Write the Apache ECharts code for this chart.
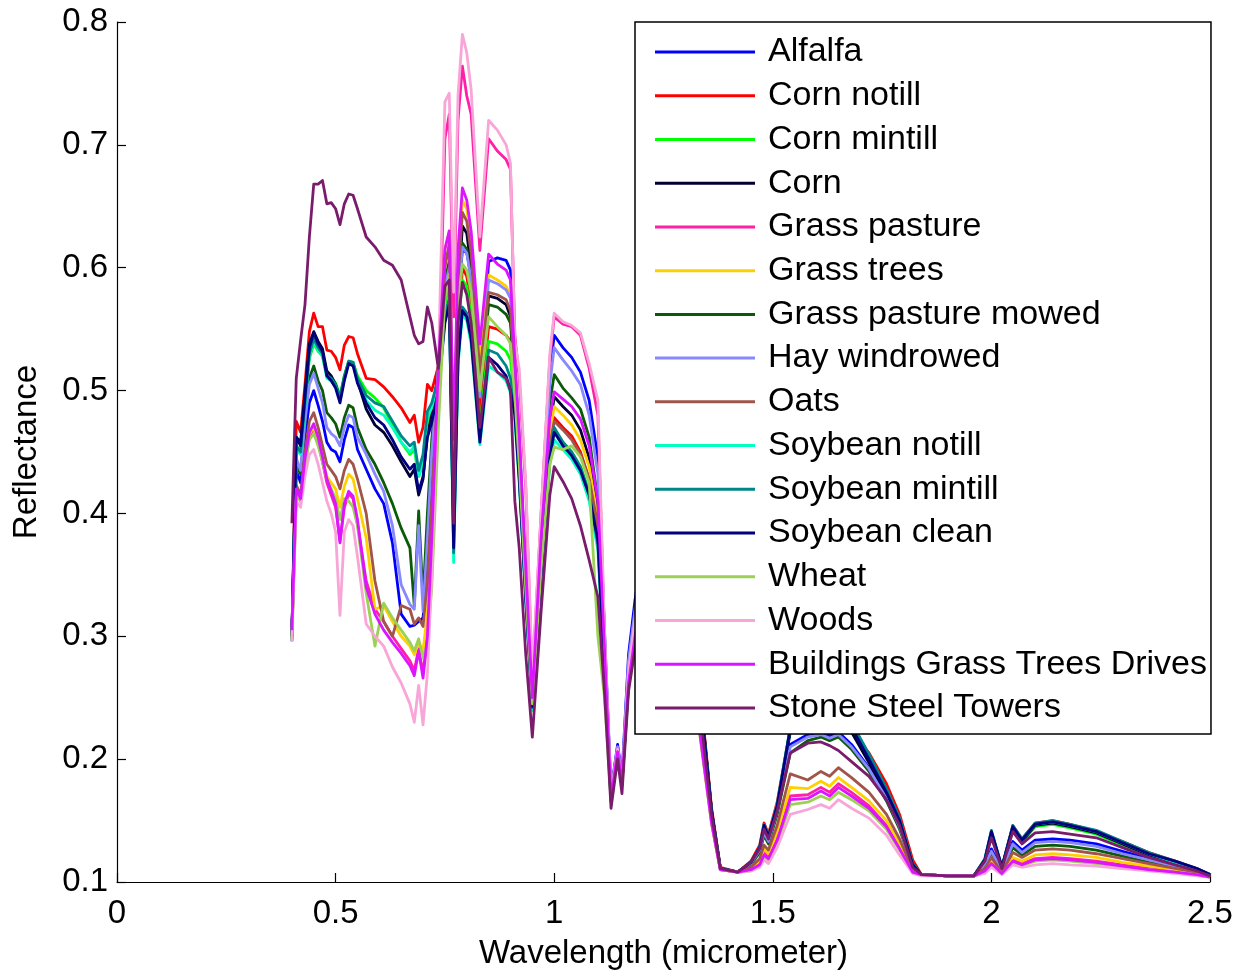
<!DOCTYPE html>
<html>
<head>
<meta charset="utf-8">
<script src="https://cdn.jsdelivr.net/npm/echarts@6/dist/echarts.min.js"></script>
<style>
html,body{margin:0;padding:0;background:#fff;}
#chart{width:1246px;height:975px;}
</style>
</head>
<body>
<div id="chart"></div>
<script>
// Wavelength grid (micrometer)
var wavelengths = [
0.40,0.41,0.42,0.43,0.44,0.45,0.46,0.47,0.48,0.49,
0.50,0.51,0.52,0.53,0.54,0.55,0.57,0.59,0.61,0.63,
0.65,0.67,0.68,0.69,0.70,0.71,0.72,0.735,0.75,0.76,
0.77,0.78,0.79,0.80,0.81,0.83,0.85,0.87,0.89,0.90,
0.91,0.92,0.935,0.95,0.97,0.99,1.00,1.02,1.04,1.06,
1.08,1.10,1.115,1.13,1.145,1.155,1.17,1.185,1.22,1.26,
1.30,1.33,1.36,1.38,1.42,1.45,1.47,1.48,1.49,1.51,
1.54,1.58,1.61,1.63,1.65,1.68,1.72,1.76,1.79,1.82,
1.84,1.90,1.96,1.985,2.00,2.024,2.049,2.07,2.10,2.14,
2.18,2.24,2.30,2.36,2.42,2.47,2.50];

var classNames = ["Alfalfa","Corn notill","Corn mintill","Corn","Grass pasture","Grass trees",
"Grass pasture mowed","Hay windrowed","Oats","Soybean notill","Soybean mintill","Soybean clean",
"Wheat","Woods","Buildings Grass Trees Drives","Stone Steel Towers"];

var classColors = ["#0000ff","#ff0000","#00ff00","#000033","#ff20a8","#ffd000",
"#0a5a0a","#8888ff","#a0544a","#00ffc0","#00858a","#000080",
"#9bd154","#f8a5d8","#dc14ff","#7a1c6c"];

var yTicks = [0.1,0.2,0.3,0.4,0.5,0.6,0.7,0.8];
var xTicks = [0,0.5,1,1.5,2,2.5];

var alfalfa = [
0.305,0.435,0.425,0.462,0.490,0.500,0.488,0.475,0.458,0.452,
0.450,0.442,0.460,0.472,0.470,0.452,0.436,0.420,0.408,0.376,
0.318,0.308,0.309,0.312,0.315,0.360,0.430,0.505,0.580,0.595,
0.420,0.570,0.615,0.612,0.595,0.500,0.605,0.608,0.606,0.598,
0.520,0.462,0.350,0.252,0.390,0.515,0.545,0.535,0.527,0.515,
0.492,0.445,0.305,0.174,0.212,0.186,0.285,0.330,0.410,0.425,
0.390,0.265,0.157,0.111,0.108,0.115,0.126,0.142,0.134,0.158,
0.212,0.220,0.222,0.219,0.222,0.212,0.193,0.169,0.146,0.112,
0.106,0.105,0.105,0.114,0.127,0.110,0.133,0.126,0.134,0.135,
0.134,0.131,0.125,0.119,0.114,0.110,0.105];

var cornNotill = [
0.300,0.475,0.466,0.505,0.548,0.563,0.552,0.552,0.533,0.532,
0.527,0.517,0.537,0.544,0.543,0.530,0.510,0.509,0.503,0.495,
0.486,0.474,0.480,0.458,0.470,0.505,0.500,0.520,0.575,0.590,
0.385,0.540,0.600,0.593,0.570,0.480,0.552,0.550,0.545,0.540,
0.490,0.440,0.335,0.240,0.355,0.455,0.478,0.470,0.463,0.450,
0.428,0.385,0.275,0.170,0.208,0.182,0.265,0.315,0.400,0.420,
0.390,0.270,0.160,0.112,0.108,0.117,0.130,0.148,0.139,0.165,
0.225,0.245,0.248,0.246,0.248,0.222,0.205,0.180,0.155,0.118,
0.106,0.105,0.105,0.118,0.140,0.112,0.146,0.135,0.148,0.150,
0.147,0.141,0.133,0.124,0.117,0.111,0.106];

var cornMintill = [
0.298,0.455,0.450,0.488,0.526,0.538,0.532,0.528,0.512,0.510,
0.506,0.496,0.512,0.524,0.523,0.512,0.500,0.494,0.486,0.472,
0.458,0.448,0.452,0.430,0.440,0.475,0.485,0.510,0.570,0.585,
0.380,0.550,0.590,0.585,0.560,0.470,0.540,0.538,0.532,0.525,
0.490,0.435,0.335,0.242,0.352,0.448,0.468,0.458,0.450,0.438,
0.418,0.375,0.270,0.166,0.205,0.180,0.262,0.305,0.390,0.410,
0.383,0.265,0.157,0.111,0.108,0.115,0.127,0.145,0.136,0.161,
0.224,0.240,0.243,0.241,0.243,0.226,0.200,0.173,0.150,0.114,
0.106,0.105,0.105,0.117,0.139,0.112,0.143,0.132,0.145,0.147,
0.144,0.139,0.130,0.121,0.115,0.110,0.106];

var corn = [
0.298,0.462,0.458,0.498,0.538,0.548,0.540,0.534,0.516,0.512,
0.505,0.493,0.510,0.523,0.522,0.508,0.485,0.472,0.466,0.455,
0.442,0.430,0.436,0.415,0.428,0.465,0.480,0.515,0.585,0.600,
0.385,0.575,0.634,0.628,0.600,0.500,0.577,0.575,0.570,0.560,
0.510,0.455,0.345,0.245,0.365,0.470,0.495,0.487,0.480,0.468,
0.445,0.400,0.282,0.168,0.207,0.180,0.268,0.318,0.405,0.425,
0.395,0.268,0.158,0.111,0.108,0.116,0.128,0.145,0.136,0.160,
0.222,0.238,0.241,0.239,0.241,0.222,0.197,0.170,0.148,0.113,
0.106,0.105,0.105,0.117,0.139,0.112,0.144,0.133,0.146,0.148,
0.145,0.140,0.131,0.122,0.116,0.110,0.106];

var grassPasture = [
0.300,0.418,0.410,0.440,0.462,0.470,0.458,0.442,0.425,0.415,
0.405,0.378,0.405,0.416,0.412,0.392,0.345,0.322,0.312,0.300,
0.290,0.280,0.272,0.290,0.270,0.300,0.370,0.500,0.705,0.725,
0.560,0.720,0.764,0.740,0.725,0.614,0.705,0.695,0.688,0.680,
0.545,0.510,0.420,0.262,0.400,0.525,0.560,0.554,0.552,0.545,
0.518,0.480,0.300,0.172,0.210,0.182,0.275,0.318,0.360,0.370,
0.335,0.240,0.150,0.110,0.108,0.110,0.115,0.124,0.120,0.136,
0.170,0.171,0.177,0.173,0.180,0.173,0.162,0.146,0.128,0.109,
0.106,0.105,0.105,0.109,0.116,0.107,0.118,0.115,0.119,0.120,
0.119,0.117,0.114,0.111,0.109,0.106,0.104];

var grassTrees = [
0.300,0.418,0.412,0.445,0.465,0.470,0.458,0.444,0.430,0.425,
0.420,0.405,0.422,0.432,0.428,0.412,0.380,0.322,0.325,0.312,
0.300,0.292,0.285,0.295,0.288,0.320,0.395,0.520,0.615,0.630,
0.450,0.600,0.655,0.648,0.622,0.530,0.594,0.590,0.585,0.577,
0.520,0.460,0.350,0.250,0.370,0.465,0.487,0.480,0.472,0.460,
0.438,0.395,0.282,0.168,0.204,0.179,0.260,0.298,0.335,0.345,
0.315,0.230,0.148,0.110,0.108,0.111,0.117,0.127,0.123,0.140,
0.177,0.176,0.182,0.178,0.185,0.177,0.166,0.150,0.131,0.109,
0.106,0.105,0.105,0.110,0.117,0.107,0.120,0.117,0.122,0.123,
0.122,0.120,0.116,0.113,0.110,0.107,0.104];

var grassPastureMowed = [
0.300,0.440,0.432,0.475,0.510,0.520,0.508,0.500,0.482,0.478,
0.473,0.462,0.478,0.488,0.486,0.470,0.452,0.440,0.425,0.408,
0.388,0.372,0.325,0.402,0.330,0.400,0.460,0.520,0.590,0.605,
0.410,0.570,0.620,0.615,0.590,0.500,0.570,0.568,0.562,0.555,
0.505,0.450,0.340,0.245,0.370,0.490,0.513,0.502,0.494,0.485,
0.462,0.410,0.285,0.168,0.205,0.180,0.265,0.315,0.395,0.410,
0.380,0.260,0.155,0.111,0.108,0.114,0.124,0.138,0.131,0.155,
0.205,0.215,0.218,0.215,0.218,0.208,0.190,0.166,0.143,0.112,
0.106,0.105,0.105,0.113,0.124,0.109,0.128,0.122,0.129,0.130,
0.129,0.126,0.121,0.116,0.112,0.108,0.105];

var hayWindrowed = [
0.302,0.445,0.435,0.475,0.505,0.514,0.502,0.490,0.470,0.465,
0.462,0.455,0.470,0.480,0.478,0.462,0.448,0.432,0.418,0.390,
0.342,0.326,0.322,0.390,0.320,0.380,0.450,0.515,0.585,0.600,
0.410,0.570,0.617,0.612,0.590,0.495,0.590,0.587,0.582,0.575,
0.510,0.455,0.345,0.250,0.385,0.505,0.535,0.525,0.516,0.505,
0.480,0.432,0.300,0.172,0.210,0.185,0.280,0.322,0.405,0.420,
0.385,0.262,0.156,0.111,0.108,0.115,0.126,0.140,0.133,0.158,
0.210,0.218,0.220,0.217,0.220,0.210,0.192,0.168,0.145,0.112,
0.106,0.105,0.105,0.114,0.125,0.109,0.131,0.124,0.132,0.133,
0.132,0.129,0.123,0.118,0.113,0.109,0.105];

var oats = [
0.300,0.423,0.415,0.450,0.475,0.482,0.470,0.455,0.440,0.435,
0.430,0.420,0.435,0.444,0.440,0.428,0.400,0.345,0.312,0.300,
0.325,0.322,0.310,0.315,0.308,0.345,0.410,0.510,0.600,0.620,
0.440,0.590,0.645,0.638,0.612,0.515,0.580,0.578,0.574,0.565,
0.515,0.455,0.345,0.248,0.365,0.455,0.475,0.468,0.460,0.448,
0.428,0.390,0.280,0.168,0.204,0.180,0.262,0.300,0.340,0.350,
0.320,0.235,0.150,0.110,0.108,0.112,0.119,0.130,0.126,0.146,
0.188,0.183,0.190,0.186,0.193,0.185,0.173,0.155,0.135,0.110,
0.106,0.105,0.105,0.111,0.120,0.108,0.124,0.120,0.126,0.127,
0.126,0.123,0.119,0.115,0.111,0.108,0.105];

var soybeanNotill = [
0.296,0.452,0.448,0.488,0.528,0.540,0.533,0.528,0.510,0.508,
0.503,0.492,0.510,0.523,0.522,0.508,0.492,0.484,0.480,0.470,
0.458,0.450,0.455,0.430,0.442,0.478,0.486,0.505,0.558,0.572,
0.360,0.520,0.562,0.557,0.538,0.456,0.520,0.515,0.508,0.498,
0.475,0.425,0.328,0.240,0.345,0.440,0.460,0.452,0.444,0.432,
0.410,0.370,0.268,0.165,0.203,0.178,0.260,0.302,0.388,0.408,
0.382,0.263,0.156,0.111,0.108,0.116,0.128,0.146,0.137,0.163,
0.226,0.243,0.246,0.244,0.246,0.229,0.203,0.175,0.151,0.114,
0.106,0.105,0.105,0.118,0.141,0.112,0.145,0.134,0.147,0.149,
0.146,0.141,0.132,0.123,0.116,0.110,0.106];

var soybeanMintill = [
0.296,0.455,0.450,0.490,0.530,0.542,0.535,0.530,0.512,0.510,
0.505,0.494,0.512,0.524,0.523,0.510,0.496,0.490,0.487,0.475,
0.463,0.455,0.458,0.435,0.448,0.483,0.490,0.510,0.562,0.575,
0.368,0.525,0.568,0.563,0.545,0.462,0.533,0.530,0.520,0.510,
0.485,0.430,0.330,0.242,0.350,0.448,0.470,0.458,0.450,0.438,
0.416,0.375,0.270,0.166,0.205,0.180,0.262,0.305,0.392,0.412,
0.385,0.265,0.157,0.111,0.108,0.116,0.128,0.147,0.137,0.163,
0.226,0.243,0.246,0.244,0.246,0.230,0.204,0.176,0.152,0.115,
0.106,0.105,0.105,0.119,0.142,0.112,0.146,0.135,0.148,0.150,
0.147,0.142,0.133,0.124,0.117,0.111,0.106];

var soybeanClean = [
0.300,0.462,0.455,0.495,0.535,0.547,0.538,0.532,0.512,0.508,
0.502,0.490,0.508,0.522,0.520,0.506,0.490,0.478,0.472,0.460,
0.446,0.436,0.440,0.418,0.430,0.462,0.474,0.500,0.555,0.570,
0.372,0.525,0.565,0.560,0.542,0.458,0.527,0.521,0.512,0.500,
0.480,0.428,0.330,0.243,0.350,0.445,0.466,0.455,0.447,0.435,
0.415,0.378,0.272,0.168,0.205,0.180,0.262,0.310,0.390,0.410,
0.385,0.265,0.158,0.111,0.108,0.116,0.128,0.146,0.137,0.162,
0.225,0.240,0.243,0.241,0.243,0.226,0.200,0.173,0.150,0.114,
0.106,0.105,0.105,0.118,0.141,0.112,0.145,0.134,0.147,0.149,
0.146,0.141,0.132,0.123,0.117,0.111,0.106];

var wheat = [
0.298,0.415,0.410,0.440,0.460,0.465,0.455,0.442,0.428,0.420,
0.412,0.395,0.412,0.410,0.405,0.390,0.335,0.292,0.327,0.315,
0.305,0.295,0.288,0.298,0.282,0.295,0.340,0.470,0.575,0.595,
0.420,0.570,0.603,0.598,0.580,0.500,0.560,0.552,0.545,0.538,
0.495,0.440,0.338,0.245,0.355,0.440,0.454,0.452,0.455,0.446,
0.425,0.300,0.250,0.166,0.202,0.178,0.258,0.295,0.330,0.340,
0.312,0.228,0.147,0.110,0.108,0.109,0.113,0.121,0.118,0.132,
0.163,0.165,0.170,0.167,0.173,0.167,0.158,0.143,0.126,0.108,
0.106,0.105,0.105,0.108,0.114,0.107,0.116,0.113,0.117,0.118,
0.117,0.115,0.112,0.110,0.108,0.106,0.104];

var woods = [
0.296,0.410,0.405,0.430,0.448,0.452,0.440,0.425,0.410,0.400,
0.385,0.317,0.385,0.395,0.390,0.365,0.310,0.300,0.292,0.275,
0.262,0.245,0.230,0.260,0.228,0.270,0.350,0.520,0.735,0.742,
0.580,0.740,0.790,0.775,0.745,0.625,0.720,0.712,0.700,0.685,
0.540,0.518,0.425,0.270,0.400,0.530,0.563,0.556,0.553,0.547,
0.522,0.492,0.305,0.172,0.208,0.180,0.272,0.315,0.355,0.365,
0.330,0.235,0.148,0.110,0.108,0.109,0.112,0.118,0.115,0.128,
0.155,0.159,0.163,0.160,0.167,0.160,0.152,0.138,0.122,0.107,
0.105,0.105,0.105,0.107,0.112,0.106,0.114,0.112,0.114,0.115,
0.114,0.113,0.111,0.109,0.107,0.105,0.104];

var buildings = [
0.305,0.420,0.412,0.445,0.466,0.473,0.462,0.446,0.428,0.418,
0.408,0.376,0.408,0.418,0.414,0.395,0.340,0.318,0.305,0.295,
0.286,0.276,0.268,0.288,0.266,0.300,0.380,0.520,0.615,0.630,
0.460,0.615,0.665,0.655,0.630,0.538,0.611,0.603,0.598,0.590,
0.525,0.465,0.355,0.250,0.380,0.478,0.499,0.493,0.487,0.477,
0.455,0.410,0.290,0.168,0.206,0.180,0.262,0.300,0.338,0.348,
0.318,0.230,0.148,0.110,0.108,0.110,0.114,0.122,0.119,0.134,
0.167,0.168,0.174,0.170,0.177,0.170,0.160,0.145,0.127,0.108,
0.106,0.105,0.105,0.109,0.115,0.107,0.117,0.114,0.118,0.119,
0.118,0.116,0.113,0.110,0.108,0.106,0.104];

var stoneSteel = [
0.392,0.510,0.541,0.570,0.625,0.668,0.668,0.671,0.652,0.653,
0.648,0.635,0.652,0.660,0.659,0.648,0.625,0.617,0.606,0.602,
0.590,0.560,0.545,0.538,0.540,0.568,0.555,0.518,0.585,0.590,
0.392,0.555,0.588,0.578,0.555,0.470,0.527,0.515,0.510,0.500,
0.410,0.372,0.285,0.218,0.320,0.415,0.438,0.426,0.412,0.390,
0.362,0.332,0.255,0.160,0.200,0.172,0.255,0.290,0.360,0.375,
0.345,0.250,0.155,0.111,0.108,0.116,0.127,0.143,0.135,0.158,
0.205,0.213,0.214,0.211,0.207,0.198,0.186,0.167,0.146,0.112,
0.106,0.105,0.105,0.117,0.136,0.111,0.141,0.131,0.140,0.141,
0.139,0.136,0.128,0.120,0.114,0.109,0.105];

var allValues = [alfalfa, cornNotill, cornMintill, corn, grassPasture, grassTrees,
  grassPastureMowed, hayWindrowed, oats, soybeanNotill, soybeanMintill, soybeanClean,
  wheat, woods, buildings, stoneSteel];

var FONT = "'Liberation Sans', Arial, Helvetica, sans-serif";
var FS = 33;
var LFS = 34;

var series = allValues.map(function (vals, i) {
  return {
    name: classNames[i],
    type: 'line',
    data: vals.map(function (v, k) { return [wavelengths[k], v]; }),
    showSymbol: false,
    symbol: 'none',
    lineStyle: { width: 2.8, color: classColors[i], join: 'round' },
    itemStyle: { color: classColors[i] },
    emphasis: { disabled: true },
    animation: false,
    clip: true
  };
});

var chart = echarts.init(document.getElementById('chart'), null, { renderer: 'canvas' });
chart.setOption({
  animation: false,
  backgroundColor: '#ffffff',
  grid: { left: 117, right: 36, top: 22, bottom: 92, containLabel: false },
  xAxis: {
    type: 'value', min: xTicks[0], max: xTicks[xTicks.length - 1], interval: 0.5,
    name: 'Wavelength (micrometer)', nameLocation: 'middle', nameGap: 55,
    nameTextStyle: { fontSize: FS, color: '#000', fontFamily: FONT },
    axisLine: { show: true, onZero: false, lineStyle: { color: '#000', width: 1.2 } },
    axisTick: { show: true, inside: true, length: 9, lineStyle: { color: '#000', width: 1.2 } },
    axisLabel: { fontSize: FS, color: '#000', fontFamily: FONT, margin: 15,
      formatter: function (v) { return String(Math.round(v * 10) / 10); } },
    splitLine: { show: false }
  },
  yAxis: {
    type: 'value', min: yTicks[0], max: yTicks[yTicks.length - 1], interval: 0.1,
    name: 'Reflectance', nameLocation: 'middle', nameGap: 74, nameRotate: 90,
    nameTextStyle: { fontSize: FS, color: '#000', fontFamily: FONT },
    axisLine: { show: true, onZero: false, lineStyle: { color: '#000', width: 1.2 } },
    axisTick: { show: true, inside: true, length: 9, lineStyle: { color: '#000', width: 1.2 } },
    axisLabel: { fontSize: FS, color: '#000', fontFamily: FONT, margin: 9,
      formatter: function (v) { return v.toFixed(1); } },
    splitLine: { show: false }
  },
  legend: {
    orient: 'vertical', left: 635, top: 22,
    padding: [13, 4, 9, 20],
    backgroundColor: '#ffffff', borderColor: '#000', borderWidth: 1.5,
    itemWidth: 100, itemHeight: 3, itemGap: 9.73, icon: 'rect',
    selectedMode: false,
    textStyle: { fontSize: LFS, color: '#000', fontFamily: FONT, lineHeight: 34, padding: [0, 0, 0, 8] },
    data: classNames
  },
  series: series
});
</script>
</body>
</html>
